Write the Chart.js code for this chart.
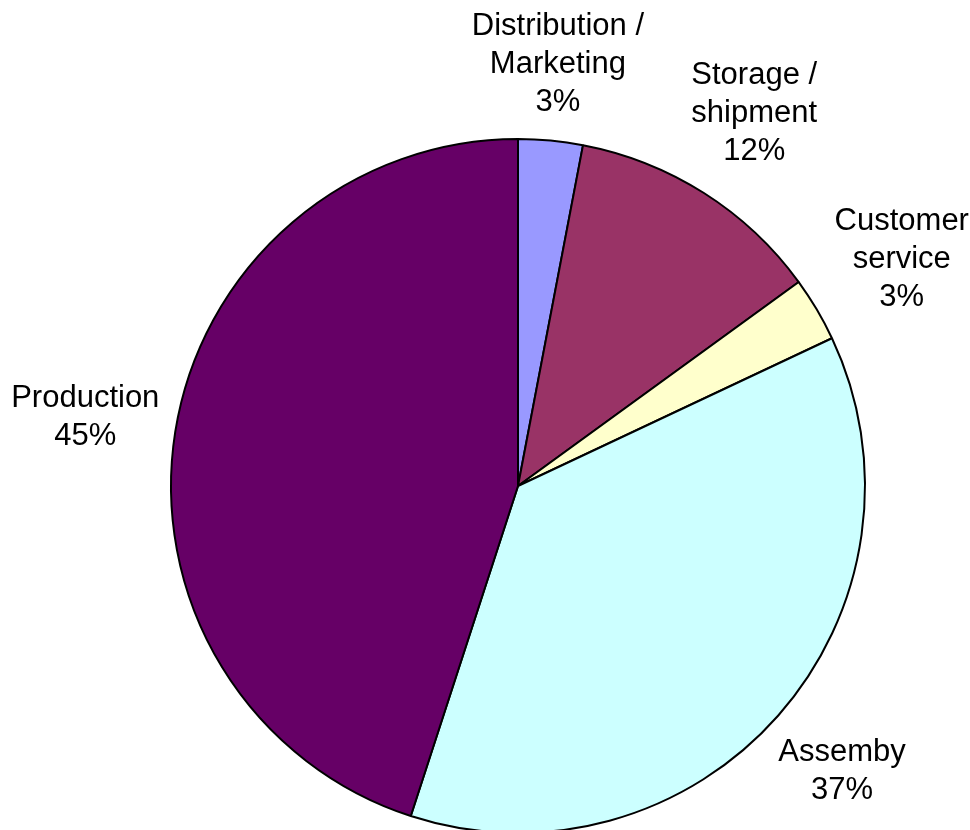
<!DOCTYPE html>
<html>
<head>
<meta charset="utf-8">
<script src="https://cdn.jsdelivr.net/npm/chart.js@4.4.1/dist/chart.umd.min.js"></script>
<style>
  html, body { margin: 0; padding: 0; background: #fff; overflow: hidden; }
  #wrap { position: relative; width: 970px; height: 900px; }
</style>
</head>
<body>
<div id="wrap"><canvas id="costChart" width="970" height="900"></canvas></div>
<script>
const categories = [
  ["Distribution /", "Marketing"],
  ["Storage /", "shipment"],
  ["Customer", "service"],
  ["Assemby"],
  ["Production"],
];
const shares = [3, 12, 3, 37, 45];
const sliceColors = ["#9999ff", "#993366", "#ffffcc", "#ccffff", "#660066"];

// labels sit outside the pie: the text box is pushed out along the slice's
// mid angle until its near side clears the rim by a small gap
const outsideLabels = {
  id: "outsideLabels",
  afterDatasetsDraw(chart) {
    const ctx = chart.ctx;
    const meta = chart.getDatasetMeta(0);
    const lineH = 38;
    const gap = 12;
    ctx.save();
    ctx.fillStyle = "#000";
    ctx.font = "31px 'Liberation Sans', Arial, sans-serif";
    ctx.textAlign = "center";
    ctx.textBaseline = "middle";
    meta.data.forEach((arc, i) => {
      const p = arc.getProps(["x", "y", "startAngle", "endAngle", "outerRadius"], true);
      const mid = (p.startAngle + p.endAngle) / 2;
      const ux = Math.cos(mid);
      const uy = Math.sin(mid);
      const lines = categories[i].concat([shares[i] + "%"]);
      const w = Math.max(...lines.map((t) => ctx.measureText(t).width));
      const h = lines.length * lineH;
      const dist = p.outerRadius + gap + (w / 2) * Math.abs(ux) + (h / 2) * Math.abs(uy);
      const cx = p.x + ux * dist;
      const cy = p.y + uy * dist;
      const top = cy - ((lines.length - 1) * lineH) / 2;
      lines.forEach((t, k) => ctx.fillText(t, cx, top + k * lineH));
    });
    ctx.restore();
  },
};

new Chart(document.getElementById("costChart"), {
  type: "pie",
  data: {
    labels: categories.map((c) => c.join(" ")),
    datasets: [
      {
        data: shares,
        backgroundColor: sliceColors,
        borderColor: "#000",
        borderWidth: 2,
      },
    ],
  },
  options: {
    responsive: false,
    animation: false,
    layout: {
      padding: { left: 170, right: 104, top: 138, bottom: 66 },
    },
    plugins: {
      legend: { display: false },
      tooltip: { enabled: false },
    },
  },
  plugins: [outsideLabels],
});
</script>
</body>
</html>
